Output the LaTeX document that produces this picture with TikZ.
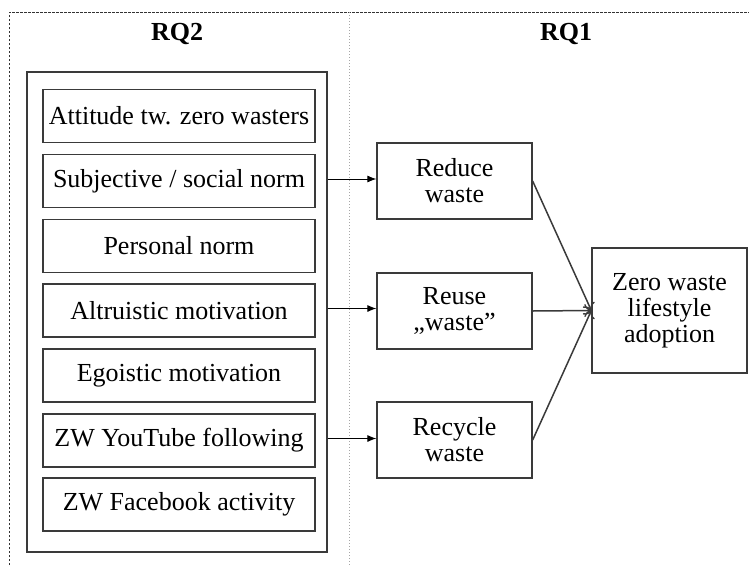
\documentclass[tikz,border=0pt]{standalone}
\usepackage{fontspec}
\setmainfont{Liberation Serif}
\usetikzlibrary{arrows.meta}
\definecolor{boxline}{HTML}{3A3A3A}
\begin{document}
\begin{tikzpicture}[x=1pt,y=-1pt,
  txt/.style={font=\fontsize{26}{26}\selectfont},
  factor/.style={draw=boxline, line width=1.3pt, minimum width=272pt, minimum height=53pt, inner sep=0pt, txt},
  outcome/.style={draw=boxline, line width=1.3pt, minimum width=155pt, minimum height=76pt, inner sep=0pt, align=center, txt},
  container/.style={draw=boxline, line width=1.3pt, minimum width=300pt, minimum height=480pt, inner sep=0pt},
  title/.style={font=\fontsize{26}{26}\selectfont\bfseries},
  thinarrow/.style={line width=0.9pt, -{Latex[length=9pt,width=7pt]}},
  convarrow/.style={line width=1.5pt, draw=boxline, -{To[length=7pt,width=13pt,line width=1.3pt]}}
]
\useasboundingbox (0,0) rectangle (749,565);
% frame and divider
\draw[black!80, dash pattern=on 2.5pt off 1.5pt, line width=0.8pt] (9,565) -- (9,12) -- (749,12);
\draw[gray!70, dotted, line width=1pt] (349,12) -- (349,565);
% titles
\node[title] (rq2) at (177,34) {RQ2};
\node[title] (rq1) at (566,34) {RQ1};
% container and factors
\node[container] (cont) at (177,312) {};
\node[factor] (att) at (179,116) {Attitude tw. zero wasters};
\node[factor] (subj) at (179,181) {Subjective / social norm};
\node[factor] (pers) at (179,246) {Personal norm};
\node[factor] (altr) at (179,310.5) {Altruistic motivation};
\node[factor] (ego) at (179,375.5) {Egoistic motivation};
\node[factor] (yt) at (179,440.5) {ZW YouTube following};
\node[factor] (fb) at (179,504.5) {ZW Facebook activity};
% outcomes
\node[outcome] (red) at (454.5,181) {Reduce\\waste};
\node[outcome] (reu) at (454.5,311) {Reuse\\,,waste''};
\node[outcome] (rec) at (454.5,440) {Recycle\\waste};
\node[outcome, minimum height=125pt] (zero) at (669.5,310.5) {Zero waste\\lifestyle\\adoption};
% arrows
\draw[thinarrow] ([yshift=2pt]subj.center -| cont.east) -- ([yshift=2pt]subj.center -| red.west);
\draw[thinarrow] ([yshift=2pt]altr.center -| cont.east) -- ([yshift=2pt]altr.center -| reu.west);
\draw[thinarrow] ([yshift=2pt]yt.center -| cont.east) -- ([yshift=2pt]yt.center -| rec.west);
\draw[convarrow] (red.east) -- (zero.west);
\draw[convarrow] (reu.east) -- (zero.west);
\draw[convarrow] (rec.east) -- (zero.west);
\end{tikzpicture}
\end{document}
